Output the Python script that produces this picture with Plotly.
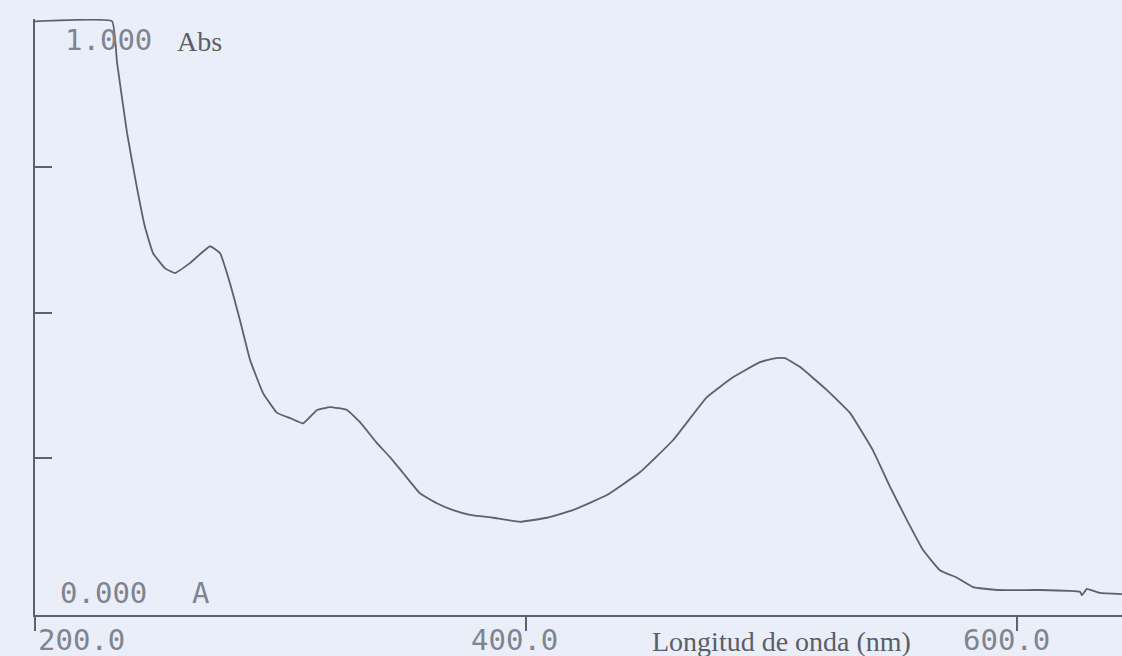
import plotly.graph_objects as go

# Wavelength (nm) and absorbance
wavelength = [200.0, 231.4, 233.4, 237.5, 241.5, 244.8, 248.1, 253.0, 257.0, 263.1,
              271.3, 275.4, 279.4, 283.5, 287.6, 292.9, 298.6, 303.9, 309.2, 314.9,
              320.2, 327.1, 332.4, 339.3, 344.6, 349.9, 356.8, 363.7, 370.3, 377.2,
              386.6, 397.6, 408.6, 419.1, 433.0, 446.4, 459.9, 473.7, 484.3, 495.3,
              501.8, 505.5, 511.6, 522.6, 532.0, 541.3, 548.3, 555.2, 561.7, 568.6,
              575.6, 582.1, 591.9, 609.4, 625.7, 626.5, 628.5, 633.8, 642.8]
absorbance = [1.000, 1.000, 0.930, 0.808, 0.715, 0.647, 0.602, 0.576, 0.568, 0.585,
              0.614, 0.602, 0.551, 0.487, 0.419, 0.362, 0.328, 0.319, 0.310, 0.333,
              0.338, 0.333, 0.312, 0.276, 0.252, 0.225, 0.190, 0.173, 0.161, 0.153,
              0.148, 0.141, 0.148, 0.161, 0.187, 0.226, 0.281, 0.355, 0.389, 0.415,
              0.422, 0.422, 0.407, 0.367, 0.328, 0.264, 0.201, 0.144, 0.093, 0.058,
              0.045, 0.029, 0.024, 0.024, 0.021, 0.015, 0.026, 0.019, 0.017]

x_tick_vals = [200, 400, 600]
x_tick_text = ["200.0", "400.0", "600.0"]
y_tick_vals = [0.25, 0.5, 0.75]
y_top_label = "1.000"
y_bottom_label = "0.000"
x_title = "Longitud de onda (nm)"

paper = "#e9eef8"
ink = "#5d616b"
mono_col = "#80848e"
serif_col = "#5a5e66"
mono = "DejaVu Sans Mono"
serif = "Liberation Serif"

fig = go.Figure()
fig.add_trace(go.Scatter(x=wavelength, y=absorbance, mode="lines",
                         line=dict(color=ink, width=1.8, shape="spline", smoothing=0.3),
                         hoverinfo="skip"))

ann = []
ann.append(dict(x=200, y=1.0, text=y_top_label, xanchor="left", yanchor="middle",
                xshift=28, yshift=-19, showarrow=False,
                font=dict(family=mono, size=29, color=mono_col)))
ann.append(dict(x=200, y=1.0, text="Abs", xanchor="left", yanchor="middle",
                xshift=140, yshift=-20, showarrow=False,
                font=dict(family=serif, size=28, color=serif_col)))
ann.append(dict(x=200, y=0.0, text=y_bottom_label, xanchor="left", yanchor="middle",
                xshift=23, yshift=11, showarrow=False,
                font=dict(family=mono, size=29, color=mono_col)))
ann.append(dict(x=200, y=0.0, text="A", xanchor="left", yanchor="middle",
                xshift=155, yshift=11, showarrow=False,
                font=dict(family=mono, size=29, color=mono_col)))
shifts = [1, -57, -56]
for v, t, s in zip(x_tick_vals, x_tick_text, shifts):
    ann.append(dict(x=v, y=0, xref="x", yref="paper", text=t, xanchor="left",
                    yanchor="middle", xshift=s, yshift=-25, showarrow=False,
                    font=dict(family=mono, size=29, color=mono_col)))
ann.append(dict(x=400, y=0, xref="x", yref="paper", text=x_title, xanchor="left",
                yanchor="middle", xshift=124, yshift=-26, showarrow=False,
                font=dict(family=serif, size=28, color=serif_col)))

fig.update_layout(
    width=1122, height=656,
    margin=dict(l=35, r=0, t=19, b=41),
    paper_bgcolor=paper, plot_bgcolor=paper,
    showlegend=False,
    annotations=ann,
    xaxis=dict(range=[200, 642.8], showgrid=False, zeroline=False,
               showline=True, linecolor=ink, linewidth=2,
               tickvals=x_tick_vals, ticks="outside", ticklen=14, tickwidth=1.5,
               tickcolor=ink, showticklabels=False),
    yaxis=dict(range=[-0.0189, 1.004], showgrid=False, zeroline=False,
               showline=True, linecolor=ink, linewidth=2,
               tickvals=y_tick_vals, ticks="inside", ticklen=17, tickwidth=2,
               tickcolor=ink, showticklabels=False),
)

fig.write_html(
    "out.html",
    config={"displayModeBar": False},
    post_script="document.body.style.margin='0';document.body.style.overflow='hidden';"
                "document.body.style.background='" + paper + "';",
)
